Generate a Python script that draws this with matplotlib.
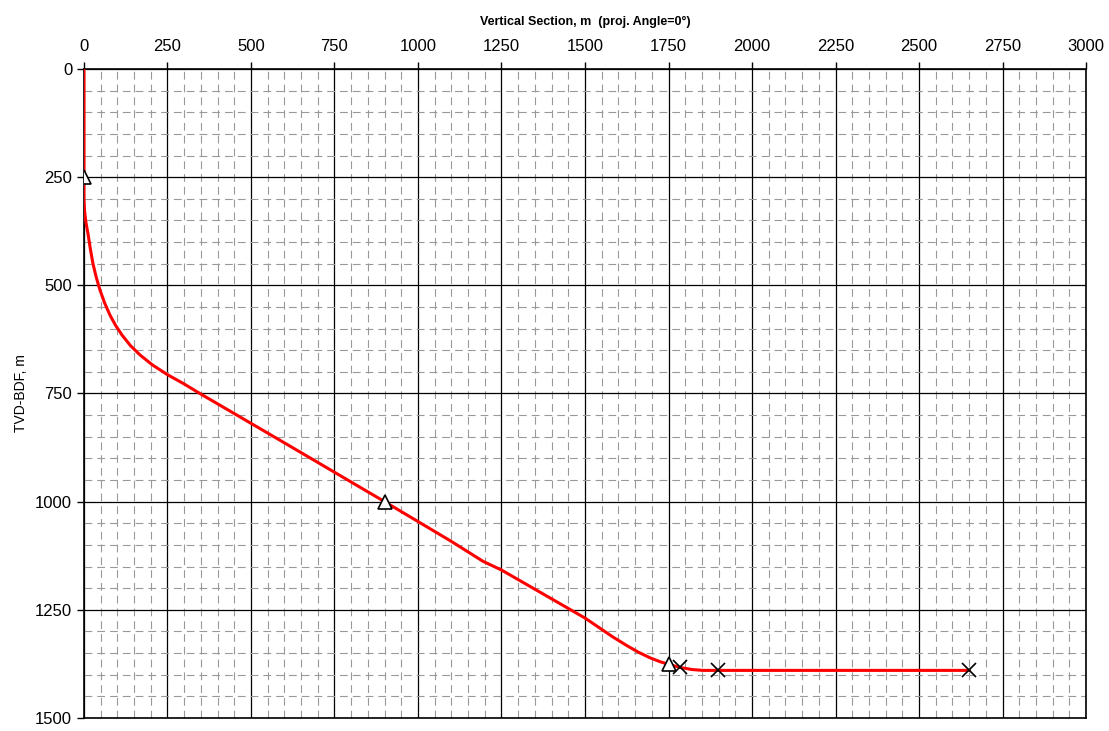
import numpy as np
import matplotlib.pyplot as plt
from matplotlib.ticker import MultipleLocator

plt.rcParams['font.family'] = ['Liberation Sans', 'DejaVu Sans']

# well trajectory: vertical section (m) vs TVD (m)
vsec = [0, 0, 0, 2, 6, 12, 19, 27, 37, 48, 62, 78, 95, 114, 140, 168, 205,
        249, 300, 347, 600, 900, 1096, 1195, 1250, 1500, 1584, 1626, 1660,
        1695, 1725, 1750, 1784, 1820, 1853, 1898, 2650]
tvd = [0, 250, 300, 330, 355, 380, 415, 450, 482, 511, 541, 569, 593, 615,
       640, 661, 684, 706, 728, 750, 864, 1000, 1090, 1138, 1158, 1269, 1313,
       1333, 1348, 1361, 1370, 1376, 1383, 1388, 1390, 1390, 1390]

# survey stations
tri_x = [0, 900, 1750]
tri_y = [250, 1000, 1376]
cross_x = [1784, 1898, 2650]
cross_y = [1383, 1390, 1390]

fig = plt.figure(figsize=(11.09, 7.31), dpi=100)
ax = fig.add_axes([0.0757, 0.0178, 0.9036, 0.8878])

ax.plot(vsec, tvd, color='#ff0000', lw=2.2, zorder=3)
ax.plot(tri_x, tri_y, ls='none', marker='^', ms=10, mfc='white', mec='black', mew=1.2, zorder=4)
ax.plot(cross_x, cross_y, ls='none', marker='x', ms=10, mec='black', mew=1.2, zorder=4)

ax.set_xlim(0, 3000)
ax.set_ylim(1500, 0)
ax.xaxis.set_major_locator(MultipleLocator(250))
ax.yaxis.set_major_locator(MultipleLocator(250))
ax.xaxis.set_minor_locator(MultipleLocator(50))
ax.yaxis.set_minor_locator(MultipleLocator(50))
ax.xaxis.tick_top()
ax.xaxis.set_label_position('top')
ax.tick_params(which='major', direction='out', length=5, width=1, labelsize=12, color='black')
ax.tick_params(which='minor', length=0)
ax.tick_params(axis='x', pad=6)

ax.grid(which='major', color='black', lw=0.9, ls='-', zorder=1)
ax.grid(which='minor', color='#999999', lw=0.8, ls=(0, (7, 4.5)), zorder=0)
ax.set_axisbelow(True)
for s in ax.spines.values():
    s.set_linewidth(1.2)

ax.set_xlabel('Vertical Section, m  (proj. Angle=0°)', fontsize=9, fontweight='bold', labelpad=10)
ax.set_ylabel('TVD-BDF, m', fontsize=10, labelpad=5)

fig.savefig('out.png', dpi=100, facecolor='white')
